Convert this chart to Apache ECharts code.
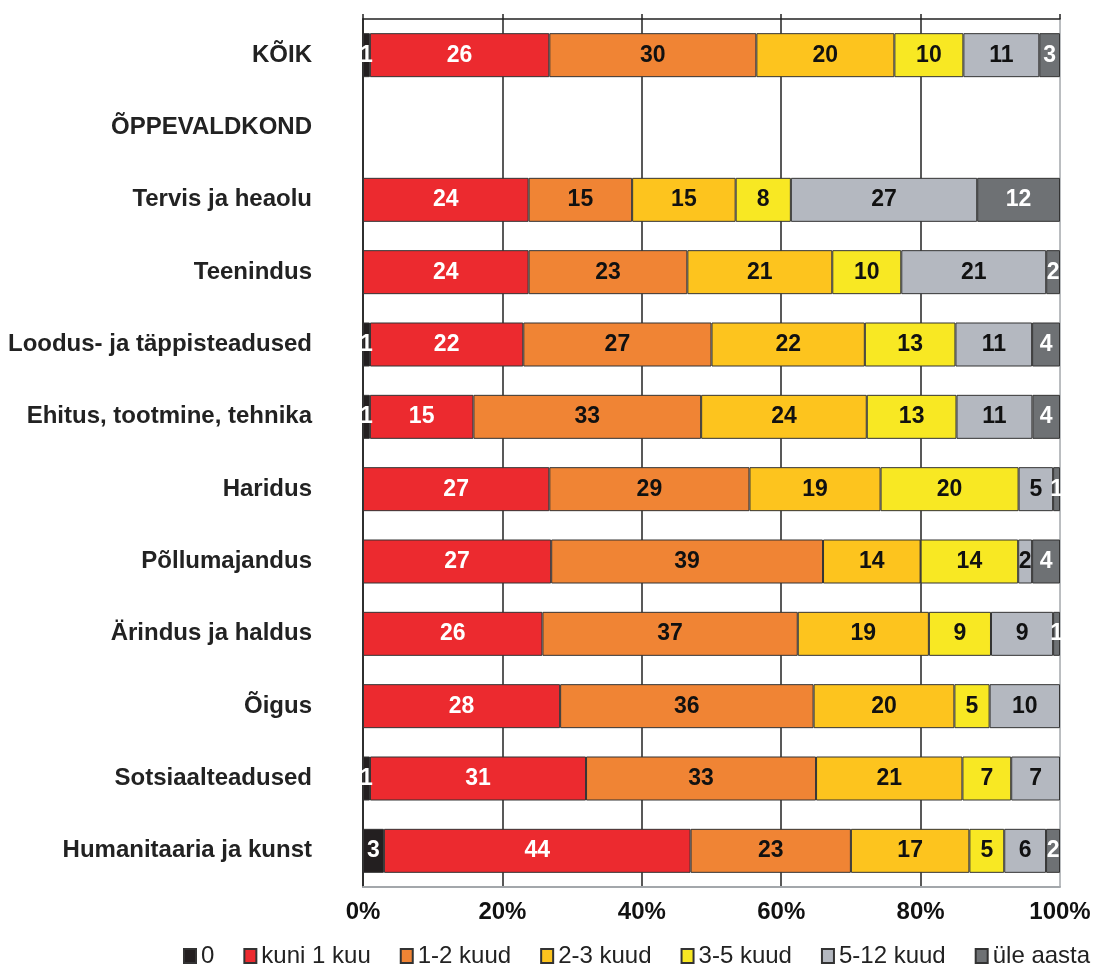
<!DOCTYPE html>
<html>
<head>
<meta charset="utf-8">
<script src="https://cdn.jsdelivr.net/npm/echarts@6/dist/echarts.min.js"></script>
<style>
  html, body { margin: 0; padding: 0; background: #fff; }
  #chart { width: 1102px; height: 965px; }
</style>
</head>
<body>
<div id="chart"></div>
<script>
// rows, top to bottom
const categories = [
    "KÕIK", "ÕPPEVALDKOND", "Tervis ja heaolu", "Teenindus",
    "Loodus- ja täppisteadused", "Ehitus, tootmine, tehnika", "Haridus",
    "Põllumajandus", "Ärindus ja haldus", "Õigus", "Sotsiaalteadused",
    "Humanitaaria ja kunst"
]
const seriesNames = ["0", "kuni 1 kuu", "1-2 kuud", "2-3 kuud", "3-5 kuud", "5-12 kuud", "üle aasta"]

// shares in % as printed on the bars (0 = no segment)
const s0      = [1, 0, 0, 0, 1, 1, 0, 0, 0, 0, 1, 3]
const sKuni1  = [26, 0, 24, 24, 22, 15, 27, 27, 26, 28, 31, 44]
const s1to2   = [30, 0, 15, 23, 27, 33, 29, 39, 37, 36, 33, 23]
const s2to3   = [20, 0, 15, 21, 22, 24, 19, 14, 19, 20, 21, 17]
const s3to5   = [10, 0, 8, 10, 13, 13, 20, 14, 9, 5, 7, 5]
const s5to12  = [11, 0, 27, 21, 11, 11, 5, 2, 9, 10, 7, 6]
const sOver1y = [3, 0, 12, 2, 4, 4, 1, 4, 1, 0, 0, 2]

const xTicks = ["0%", "20%", "40%", "60%", "80%", "100%"]

const rows = [s0, sKuni1, s1to2, s2to3, s3to5, s5to12, sOver1y]
const colors = ["#231f20", "#ec2a2f", "#f08434", "#fdc41e", "#f8e823", "#b4b8c0", "#6e7174"]
const labelColors = ["#fff", "#fff", "#111", "#111", "#111", "#111", "#fff"]

// printed numbers are rounded, so scale each row to a full 100
const rowSums = categories.map((c, i) => rows.reduce((a, r) => a + r[i], 0))

const FONT = "'Liberation Sans', Arial, sans-serif"

const series = rows.map((arr, k) => ({
    name: seriesNames[k],
    type: "bar",
    stack: "all",
    barWidth: 44,
    data: arr.map((v, i) => v > 0 ? { value: v / rowSums[i] * 100, raw: v } : null),
    itemStyle: { color: colors[k], borderColor: "#333", borderWidth: 1 },
    label: {
        show: true,
        position: "inside",
        formatter: p => p.data ? String(p.data.raw) : "",
        color: labelColors[k],
        fontFamily: FONT,
        fontWeight: "bold",
        fontSize: 23
    },
    emphasis: { disabled: true }
}))

const chart = echarts.init(document.getElementById("chart"))
chart.setOption({
    animation: false,
    grid: { left: 363, right: 42, top: 19, bottom: 78 },
    legend: {
        left: 178,
        top: 939,
        icon: "rect",
        itemWidth: 12,
        itemHeight: 14,
        itemGap: 29,
        textStyle: { fontFamily: FONT, fontSize: 24, color: "#222" },
        data: seriesNames
    },
    xAxis: [{
        type: "value",
        min: 0,
        max: 100,
        interval: 20,
        axisLine: { show: true, lineStyle: { color: "#a3a7ab", width: 2 } },
        axisTick: { show: false },
        axisLabel: {
            formatter: v => xTicks[v / 20],
            fontFamily: FONT,
            fontWeight: "bold",
            fontSize: 24,
            color: "#111",
            margin: 13
        },
        splitLine: {
            show: true,
            lineStyle: { color: ["#222", "#222", "#222", "#222", "#222", "#a3a7ab"], width: 1.5 }
        }
    }, {
        type: "value",
        position: "top",
        min: 0,
        max: 100,
        interval: 20,
        axisLine: { show: true, lineStyle: { color: "#222", width: 1.5 } },
        axisTick: { show: true, length: 5, lineStyle: { color: "#222", width: 1.5 } },
        axisLabel: { show: false },
        splitLine: { show: false }
    }],
    yAxis: {
        type: "category",
        inverse: true,
        data: categories,
        axisLine: { lineStyle: { color: "#222", width: 1.5 } },
        axisTick: { length: 9, lineStyle: { color: "#222", width: 1.5 } },
        axisLabel: {
            fontFamily: FONT,
            fontWeight: "bold",
            fontSize: 24,
            color: "#222",
            margin: 51
        }
    },
    series: series
})
</script>
</body>
</html>
